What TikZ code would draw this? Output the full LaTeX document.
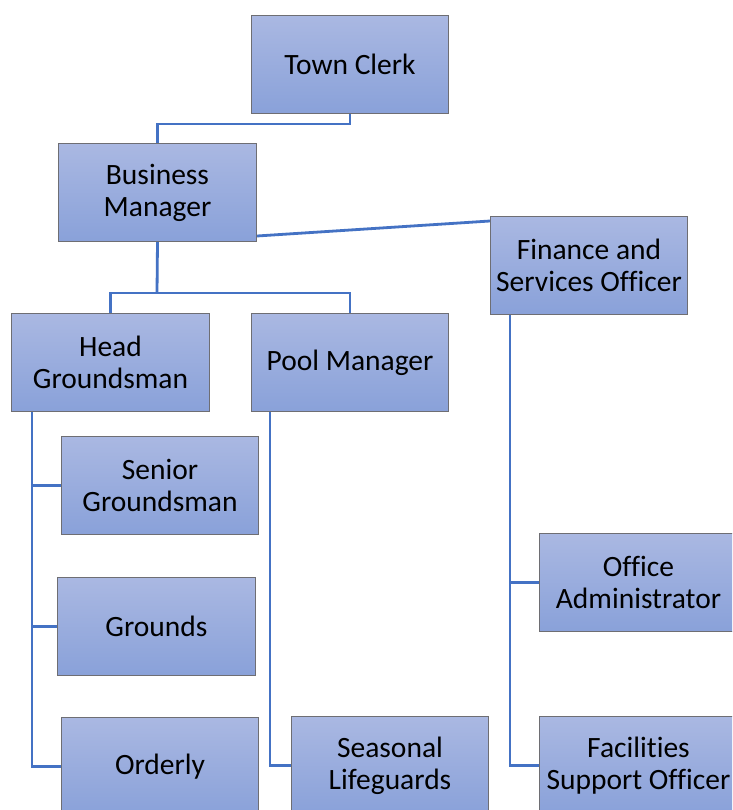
\documentclass[tikz,border=0pt]{standalone}
\usepackage{fontspec}
\setmainfont{Carlito}[Ligatures=NoCommon]
\definecolor{boxtop}{RGB}{170,184,226}
\definecolor{boxbot}{RGB}{137,161,217}
\definecolor{boxedge}{RGB}{110,110,115}
\definecolor{linkblue}{RGB}{68,114,196}
\tikzset{
  orgbox/.style={draw=boxedge, line width=1pt, top color=boxtop, bottom color=boxbot,
    minimum width=197pt, minimum height=98pt, anchor=north west, align=center,
    inner sep=1pt, font=\fontsize{29.5}{32}\selectfont},
  link/.style={draw=linkblue, line width=2.8pt}
}
\begin{document}
\begin{tikzpicture}[x=1pt,y=-1pt]
\useasboundingbox (0,0) rectangle (732,810);
\fill[white] (0,0) rectangle (732,810);
\clip (0,0) rectangle (732,810);
\node[orgbox] (tc) at (251,15) {Town Clerk};
\node[orgbox, minimum width=198pt] (bm) at (58,143) {Business\\Manager};
\node[orgbox] (fin) at (490,216) {Finance and\\Services Officer};
\node[orgbox, minimum width=198pt] (hg) at (11,313) {Head\\Groundsman};
\node[orgbox] (pm) at (251,313) {Pool Manager};
\node[orgbox] (sg) at (61,436) {Senior\\Groundsman};
\node[orgbox, minimum width=198pt] (gr) at (57,577) {Grounds};
\node[orgbox] (od) at (61,717) {Orderly};
\node[orgbox] (sl) at (291,716) {Seasonal\\Lifeguards};
\node[orgbox, minimum width=198pt] (oa) at (539,533) {Office\\Administrator};
\node[orgbox, minimum width=198pt] (fs) at (539,716) {Facilities\\Support Officer};
\coordinate (j1) at (157,293);
\draw[link] (tc.south) -- ++(0,10) -| (bm.north);
\draw[link] ([yshift=6pt]bm.south east) -- ([yshift=-5pt]fin.north west);
\draw[link] (bm.south) -- (j1);
\draw[link] (hg.north) |- (j1) -| (pm.north);
\draw[link] ([xshift=21pt]hg.south west) |- (sg.west);
\draw[link] ([xshift=21pt]hg.south west) |- (gr.west);
\draw[link] ([xshift=21pt]hg.south west) |- (od.west);
\draw[link] ([xshift=19pt]pm.south west) |- (sl.west);
\draw[link] ([xshift=20pt]fin.south west) |- (oa.west);
\draw[link] ([xshift=20pt]fin.south west) |- (fs.west);
\end{tikzpicture}
\end{document}
